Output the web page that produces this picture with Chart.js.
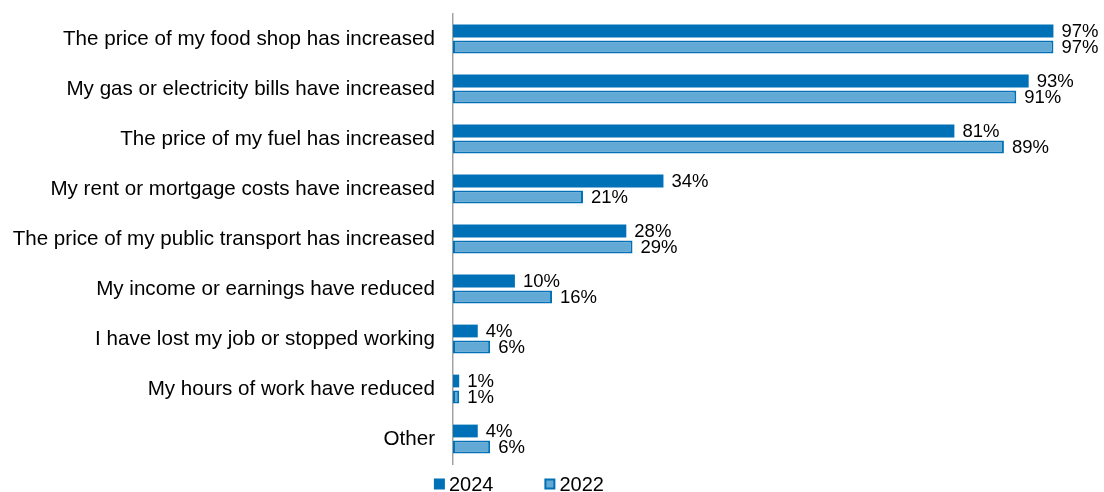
<!DOCTYPE html>
<html>
<head>
<meta charset="utf-8">
<title>Cost of living impacts</title>
<script src="https://cdn.jsdelivr.net/npm/chart.js@4/dist/chart.umd.min.js"></script>
<style>
    html, body { margin: 0; padding: 0; background: #fff; }
    #wrap { position: relative; width: 1104px; height: 492px; }
</style>
</head>
<body>
<div id="wrap"><canvas id="impact-chart"></canvas></div>
<script>
const categories = [
    'The price of my food shop has increased',
    'My gas or electricity bills have increased',
    'The price of my fuel has increased',
    'My rent or mortgage costs have increased',
    'The price of my public transport has increased',
    'My income or earnings have reduced',
    'I have lost my job or stopped working',
    'My hours of work have reduced',
    'Other'
];
const values2024 = [97, 93, 81, 34, 28, 10, 4, 1, 4];
const values2022 = [97, 91, 89, 21, 29, 16, 6, 1, 6];
const seriesNames = ['2024', '2022'];

const DARK_BLUE = '#0071b6';
const LIGHT_BLUE = '#63a9d6';
const FONT = 'Liberation Sans, Arial, Helvetica, sans-serif';

// Percentage labels just past the end of each bar
const valueLabels = {
    id: 'valueLabels',
    afterDatasetsDraw(chart) {
        const ctx = chart.ctx;
        ctx.save();
        ctx.font = '18.5px ' + FONT;
        ctx.fillStyle = '#000';
        ctx.textAlign = 'left';
        ctx.textBaseline = 'middle';
        chart.data.datasets.forEach((ds, i) => {
            const meta = chart.getDatasetMeta(i);
            meta.data.forEach((bar, j) => {
                ctx.fillText(ds.data[j] + '%', bar.x + 8, bar.y + 1);
            });
        });
        ctx.restore();
    }
};

// Compact legend under the plot: square swatch, then the series name
const bottomLegend = {
    id: 'bottomLegend',
    afterDraw(chart) {
        const ctx = chart.ctx;
        const box = 11, textGap = 4, itemGap = 51;
        const y = chart.height - 8;
        ctx.save();
        ctx.font = '20px ' + FONT;
        ctx.textBaseline = 'middle';
        const items = chart.data.datasets.map(ds => ({
            ds: ds,
            w: box + textGap + ctx.measureText(ds.label).width
        }));
        const total = items.reduce((s, it) => s + it.w, 0) + itemGap * (items.length - 1);
        let x = chart.width * 0.47 - total / 2;
        items.forEach(it => {
            const bw = it.ds.borderWidth || 0;
            ctx.fillStyle = it.ds.borderColor;
            ctx.fillRect(x, y - box / 2, box, box);
            if (bw) {
                ctx.fillStyle = it.ds.backgroundColor;
                ctx.fillRect(x + bw, y - box / 2 + bw, box - 2 * bw, box - 2 * bw);
            }
            ctx.fillStyle = '#000';
            ctx.fillText(it.ds.label, x + box + textGap, y + 1);
            x += it.w + itemGap;
        });
        ctx.restore();
    }
};

const ctx = document.getElementById('impact-chart');
new Chart(ctx, {
    type: 'bar',
    data: {
        labels: categories,
        datasets: [{
            label: seriesNames[0],
            data: values2024,
            backgroundColor: DARK_BLUE,
            borderColor: DARK_BLUE,
            borderWidth: 0
        }, {
            label: seriesNames[1],
            data: values2022,
            backgroundColor: LIGHT_BLUE,
            borderColor: DARK_BLUE,
            borderWidth: 2
        }]
    },
    options: {
        indexAxis: 'y',
        responsive: true,
        maintainAspectRatio: false,
        animation: false,
        datasets: {
            bar: {
                categoryPercentage: 0.64,
                barPercentage: 0.8,
                borderSkipped: false
            }
        },
        layout: {
            padding: { top: 14, right: 32, bottom: 28, left: 0 }
        },
        plugins: {
            legend: { display: false },
            tooltip: { enabled: false }
        },
        scales: {
            x: {
                display: false,
                min: 0,
                max: 100
            },
            y: {
                grid: { display: false, drawTicks: false },
                border: { display: true, color: '#a3a3a3', width: 1.5 },
                ticks: {
                    color: '#000',
                    padding: 18,
                    font: { family: FONT, size: 20.6 }
                },
                afterFit(scale) {
                    // fixed label column; labels sit inside the category bands
                    scale.width = 453;
                    scale.paddingTop = 0;
                    scale.paddingBottom = 0;
                }
            }
        }
    },
    plugins: [valueLabels, bottomLegend]
});
</script>
</body>
</html>
